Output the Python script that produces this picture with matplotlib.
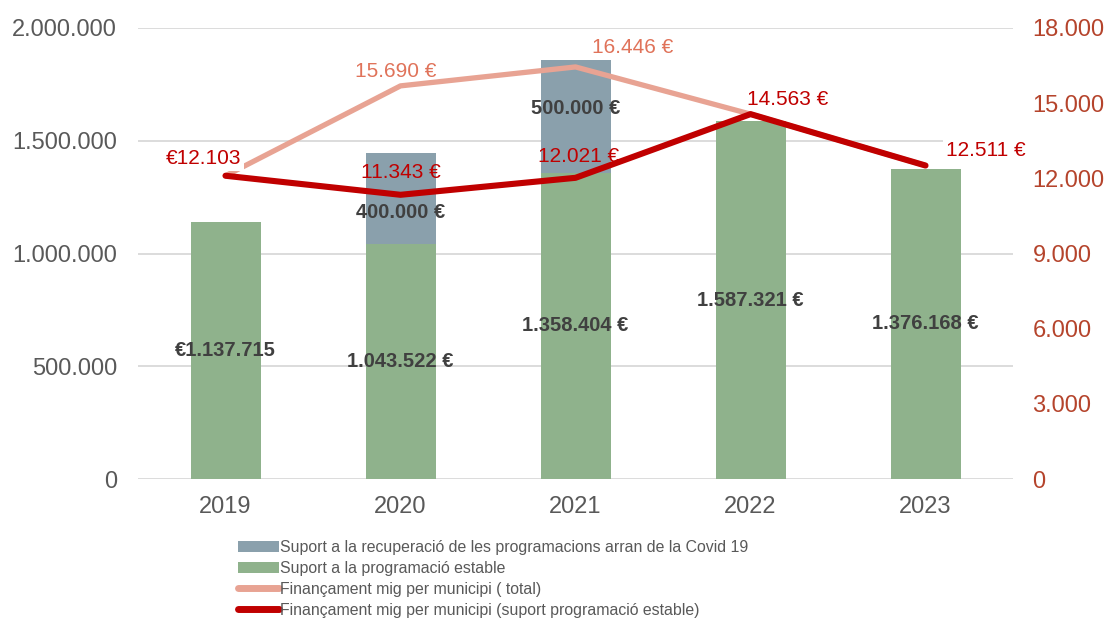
#!/usr/bin/env python3
"""Bars of funding per year with average funding per municipality on a twin axis."""

import matplotlib

matplotlib.use("Agg")

import matplotlib.pyplot as plt
from matplotlib.lines import Line2D
from matplotlib.patches import Patch

years = ["2019", "2020", "2021", "2022", "2023"]
stable_support = [1137715, 1043522, 1358404, 1587321, 1376168]
covid_support = [0, 400000, 500000, 0, 0]
avg_total = [12103, 15690, 16446, 14563, 12511]
avg_stable = [12103, 11343, 12021, 14563, 12511]

left_ticks = [0, 500000, 1000000, 1500000, 2000000]
right_ticks = [0, 3000, 6000, 9000, 12000, 15000, 18000]

legend_labels = [
    "Suport a la recuperació de les programacions arran de la Covid 19",
    "Suport a la programació estable",
    "Finançament mig per municipi ( total)",
    "Finançament mig per municipi (suport programació estable)",
]

GREEN = "#8FB28C"
BLUE = "#8AA0AC"
PINK = "#E8A393"
RED = "#C00000"
GRID = "#D9D9D9"
GREY_TEXT = "#595959"
RIGHT_TEXT = "#B5442C"
PINK_TEXT = "#E0735A"

plt.rcParams["font.family"] = ["Liberation Sans", "DejaVu Sans"]


def dotted(v: float) -> str:
    return f"{v:,.0f}".replace(",", ".")


fig = plt.figure(figsize=(11.08, 6.21), dpi=100)
ax = fig.add_axes([138 / 1108, 1 - 479 / 621, (1013 - 138) / 1108, (479 - 28) / 621])
ax2 = ax.twinx()

x = list(range(len(years)))
ax.bar(x, stable_support, width=0.4, color=GREEN, zorder=2)
ax.bar(x, covid_support, width=0.4, bottom=stable_support, color=BLUE, zorder=2)

ax.set_xlim(-0.5, len(years) - 0.5)
ax.set_ylim(0, 2000000)
ax.set_yticks(left_ticks)
ax.set_yticklabels([dotted(t) for t in left_ticks])
ax.set_xticks(x)
ax.set_xticklabels(years)
ax.grid(axis="y", color=GRID, linewidth=1.3, zorder=0)
ax.tick_params(axis="both", length=0, labelsize=17, colors=GREY_TEXT)
ax.tick_params(axis="y", pad=15)
ax.tick_params(axis="x", pad=12)
for s in ax.spines.values():
    s.set_visible(False)

# bar value labels
bar_bold = dict(ha="center", va="center", fontsize=14.5, fontweight="bold", color="#404040")
for i, v in enumerate(stable_support):
    txt = f"€{dotted(v)}" if i == 0 else f"{dotted(v)} €"
    ax.annotate(txt, (i, v / 2), **bar_bold, zorder=5)
covid_shift = [0, -14, 8, 0, 0]
for i, v in enumerate(covid_support):
    if v:
        ax.annotate(f"{dotted(v)} €", (i, stable_support[i] + v / 2),
                    xytext=(0, covid_shift[i]), textcoords="offset pixels",
                    **bar_bold, zorder=5)

# lines on the right axis
ax2.plot(x, avg_total, color=PINK, linewidth=3.8, solid_capstyle="round", zorder=2)
ax2.plot(x, avg_stable, color=RED, linewidth=4.4, solid_capstyle="round", zorder=4)
ax2.set_ylim(0, 18000)
ax2.set_yticks(right_ticks)
ax2.set_yticklabels([dotted(t) for t in right_ticks])
ax2.tick_params(axis="y", length=0, labelsize=17, colors=RIGHT_TEXT, pad=14)
for s in ax2.spines.values():
    s.set_visible(False)

stable_offsets = [(-22, 17), (0, 22), (3, 21), (37, 15), (60, 15)]
for i, v in enumerate(avg_stable):
    txt = f"€{dotted(v)}" if i == 0 else f"{dotted(v)} €"
    dx, dy = stable_offsets[i]
    box = None
    if i in (0, 4):
        box = dict(boxstyle="square,pad=0.15", facecolor="white", edgecolor="none")
    ax2.annotate(txt, (i, v), xytext=(dx, dy), textcoords="offset pixels",
                 ha="center", va="center", fontsize=15, color=RED, bbox=box, zorder=3)

total_offsets = {1: (-5, 14), 2: (57, 19)}
for i, (dx, dy) in total_offsets.items():
    ax2.annotate(f"{dotted(avg_total[i])} €", (i, avg_total[i]), xytext=(dx, dy),
                 textcoords="offset pixels", ha="center", va="center",
                 fontsize=15, color=PINK_TEXT, zorder=3)

handles = [
    Patch(facecolor=BLUE, edgecolor="none"),
    Patch(facecolor=GREEN, edgecolor="none"),
    Line2D([], [], color=PINK, linewidth=5, solid_capstyle="round"),
    Line2D([], [], color=RED, linewidth=5, solid_capstyle="round"),
]
leg = fig.legend(handles, legend_labels, loc="upper left",
                 bbox_to_anchor=(238 / 1108, 1 - 540 / 621),
                 frameon=False, fontsize=11.4,
                 labelspacing=0.38, handlelength=2.6, handleheight=0.75,
                 handletextpad=0.05, borderpad=0, borderaxespad=0)
for t in leg.get_texts():
    t.set_color(GREY_TEXT)

fig.savefig("out.png", dpi=100)
